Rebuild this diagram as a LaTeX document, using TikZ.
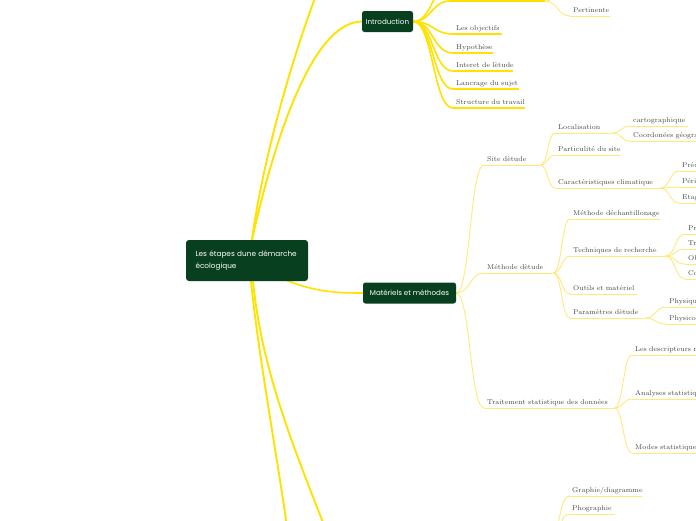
\documentclass[tikz,border=0pt]{standalone}
\usepackage{fontspec}
\newfontfamily\boxfont{Poppins}
\usetikzlibrary{calc}
\definecolor{boxgreen}{RGB}{8,63,31}
\definecolor{ybright}{RGB}{255,226,0}
\definecolor{ypale}{RGB}{255,233,125}
\definecolor{lblgray}{RGB}{72,72,72}
\pgfdeclarelayer{back}
\pgfdeclarelayer{bg}
\pgfsetlayers{back,bg,main}
\tikzset{
  mm/.style={to path={.. controls ($(\tikztostart)!0.5!(\tikztotarget |- \tikztostart)$) and ($(\tikztotarget)!0.5!(\tikztostart |- \tikztotarget)$) .. (\tikztotarget)}},
  rootline/.style={draw=ybright, line width=1.9pt},
  brightline/.style={draw=ybright, line width=1.6pt},
  paleline/.style={draw=ypale, line width=0.9pt},
  leafbase/.style={anchor=south west, inner xsep=3pt, inner ysep=2.3pt, text depth=1.2pt, text height=5pt,
    font=\fontsize{7}{8}\selectfont, text=lblgray, align=left},
  bright/.style={leafbase},
  pale/.style={leafbase},
  mainbox/.style={fill=boxgreen, rounded corners=2.5pt, minimum height=21pt, inner sep=0pt,
    text=white, font=\boxfont\fontsize{7.1}{8}\selectfont},
  rootbox/.style={fill=boxgreen, rounded corners=3pt, minimum width=122pt, minimum height=41pt,
    inner xsep=9.5pt, text width=103pt, align=left, text=white, font=\boxfont\fontsize{7.3}{12}\selectfont},
}
\newcommand\leafnode[6]{%
  \pgfmathsetmacro\lw{#5-#3-6}%
  \node[#2, text width=\lw pt] (#1) at (#3,#4) {\mbox{#6}};
  \draw[#2line] (#1.south west) -- (#1.south east);}
\begin{document}
\begin{tikzpicture}[x=1pt,y=-1pt]
\useasboundingbox (0,0) rectangle (696,520);
\clip (0,0) rectangle (696,520);
\begin{pgfonlayer}{back}
\fill[white] (0,0) rectangle (696,520);
\end{pgfonlayer}

% main boxes
\node[rootbox] (root) at (247,260.5) {\mbox{Les étapes dune démarche}\\écologique};
\node[mainbox, minimum width=51pt] (intro) at (387.5,21.5) {Introduction};
\node[mainbox, minimum width=93pt] (mat) at (409.5,293) {Matériels et méthodes};

% off-canvas anchor points
\coordinate (offA) at (330,-40);
\coordinate (offC) at (292,565);
\coordinate (offD) at (340,565);
\coordinate (pbA) at (450,1);
\coordinate (pbB) at (545,1);
\coordinate (offI) at (452,-17);
\coordinate (offP) at (570,-14);
\coordinate (offG) at (548,548);

% leaves of Introduction
\leafnode{obj}{bright}{453}{34}{502}{Les objectifs}
\leafnode{hyp}{bright}{453}{53}{493}{Hypothèse}
\leafnode{inte}{bright}{453}{71}{513}{Interet de lètude}
\leafnode{anc}{bright}{453}{89}{519}{Lancrage du sujet}
\leafnode{stru}{bright}{453}{108}{525}{Structure du travail}
\leafnode{pert}{pale}{570}{16}{610}{Pertinente}

% leaves of Matériels et méthodes
\leafnode{site}{pale}{484}{165}{540}{Site dètude}
\leafnode{meth}{pale}{484}{273}{553}{Méthode dètude}
\leafnode{trait}{pale}{484}{408}{614}{Traitement statistique des données}
\leafnode{loc}{pale}{555}{133}{612}{Localisation}
\leafnode{part}{pale}{555}{155}{620}{Particulité du site}
\leafnode{clim}{pale}{555}{188}{660}{Caractéristiques climatique}
\leafnode{carto}{pale}{630}{126}{688}{cartographique}
\leafnode{coord}{pale}{630}{141}{780}{Coordonées géographiques}
\leafnode{pre}{pale}{679}{171}{780}{Précipitations}
\leafnode{peri}{pale}{679}{187}{780}{Période sèche}
\leafnode{etag}{pale}{679}{203}{780}{Etage bioclimatique}
\leafnode{ech}{pale}{570}{219}{660}{Méthode déchantillonage}
\leafnode{tech}{pale}{570}{256}{665}{Techniques de recherche}
\leafnode{outi}{pale}{570}{294}{637}{Outils et matériel}
\leafnode{param}{pale}{570}{318}{645}{Paramètres dètude}
\leafnode{pr}{pale}{685}{234}{780}{Prélèvement}
\leafnode{tr}{pale}{685}{249}{780}{Transect}
\leafnode{ob}{pale}{685}{264}{780}{Observation}
\leafnode{co}{pale}{685}{279}{780}{Comptage}
\leafnode{phy}{pale}{666}{307}{780}{Physiques}
\leafnode{phyc}{pale}{666}{324}{780}{Physico-chimiques}
\leafnode{desc}{pale}{632}{355}{800}{Les descripteurs mathématiques}
\leafnode{anal}{pale}{632}{399}{800}{Analyses statistiques}
\leafnode{mode}{pale}{632}{453}{800}{Modes statistiques}
\leafnode{graph}{pale}{569}{496}{642}{Graphie/diagramme}
\leafnode{phot}{pale}{569}{514}{615}{Phographie}

\begin{pgfonlayer}{bg}
% root connectors
\draw[rootline] ([xshift=5pt]root.north) .. controls (264,150) and (300,30) .. (offA);
\draw[rootline] ([xshift=5pt]root.north) .. controls (272,150) and (310,22) .. (intro.west);
\draw[rootline] ([xshift=4pt]root.south) .. controls (260,370) and (282,480) .. (offC);
\draw[rootline] ([xshift=6pt]root.south) .. controls (262,370) and (290,440) .. (offD);
\draw[brightline] (root.center) .. controls (300,292) and (330,293) .. (mat.west);
% introduction
\foreach \c in {obj,hyp,inte,anc,stru}
  \draw[brightline] (intro.east) to[mm] (\c.south west);
\draw[brightline] (intro.east) to[mm] (pbA) -- (pbB);
\draw[brightline] (intro.east) to[mm] (offI);
\draw[paleline] (pbB) to[mm] (pert.south west);
\draw[paleline] (pbB) to[mm] (offP);
% matériels
\foreach \c in {site,meth,trait}
  \draw[paleline] (mat.east) to[mm] (\c.south west);
\foreach \c in {loc,part,clim}
  \draw[paleline] (site.south east) to[mm] (\c.south west);
\foreach \c in {carto,coord}
  \draw[paleline] (loc.south east) to[mm] (\c.south west);
\foreach \c in {pre,peri,etag}
  \draw[paleline] (clim.south east) to[mm] (\c.south west);
\foreach \c in {ech,tech,outi,param}
  \draw[paleline] (meth.south east) to[mm] (\c.south west);
\foreach \c in {pr,tr,ob,co}
  \draw[paleline] (tech.south east) to[mm] (\c.south west);
\foreach \c in {phy,phyc}
  \draw[paleline] (param.south east) to[mm] (\c.south west);
\foreach \c in {desc,anal,mode}
  \draw[paleline] (trait.south east) to[mm] (\c.south west);
\foreach \c in {graph,phot}
  \draw[paleline] (offG) to[mm] (\c.south west);
\end{pgfonlayer}
\end{tikzpicture}
\end{document}
